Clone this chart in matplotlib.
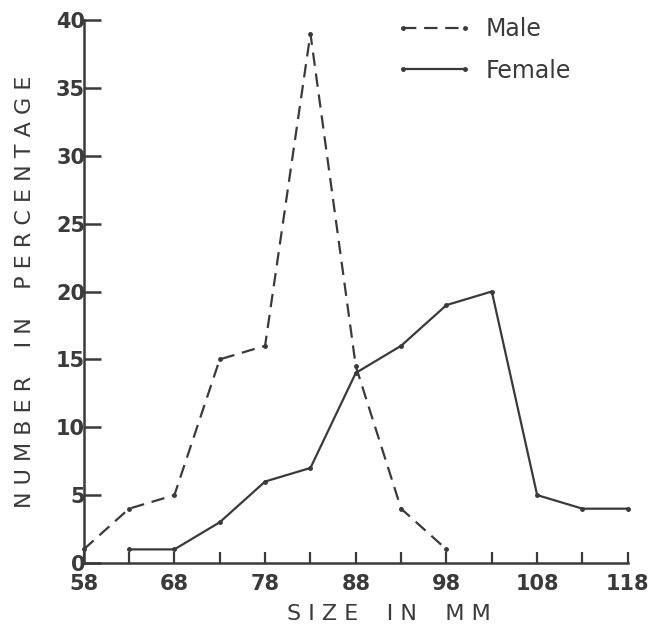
import matplotlib
matplotlib.use('Agg')
import matplotlib.pyplot as plt

# size classes (mm) and percentage per class
male_size = [58, 63, 68, 73, 78, 83, 88, 93, 98]
male_pct = [1, 4, 5, 15, 16, 39, 14.5, 4, 1]

female_size = [63, 68, 73, 78, 83, 88, 93, 98, 103, 108, 113, 118]
female_pct = [1, 1, 3, 6, 7, 14, 16, 19, 20, 5, 4, 4]

x_major = [58, 68, 78, 88, 98, 108, 118]
x_minor = [63, 73, 83, 93, 103, 113]
y_major = [0, 5, 10, 15, 20, 25, 30, 35, 40]

ink = '#3a3a3a'

fig = plt.figure(figsize=(6.54, 6.38), dpi=100)
ax = fig.add_axes([0.128, 0.1176, 0.832, 0.851])

ax.plot(male_size, male_pct, color=ink, lw=1.6, ls=(0, (6, 3.5)),
        marker='.', ms=5, clip_on=False, label='Male')
ax.plot(female_size, female_pct, color=ink, lw=1.6, ls='-',
        marker='.', ms=5, clip_on=False, label='Female')

ax.set_xlim(58, 118)
ax.set_ylim(0, 40)
ax.set_xticks(x_major)
ax.set_xticks(x_minor, minor=True)
ax.set_yticks(y_major)

for s in ['top', 'right']:
    ax.spines[s].set_visible(False)
for s in ['left', 'bottom']:
    ax.spines[s].set_color(ink)
    ax.spines[s].set_linewidth(1.8)

ax.tick_params(axis='y', which='major', direction='in', length=12, width=1.8,
               colors=ink, labelsize=15, pad=-1)
ax.tick_params(axis='x', which='both', direction='in', length=8, width=1.6,
               colors=ink, labelsize=15, pad=8)
for lab in ax.get_xticklabels() + ax.get_yticklabels():
    lab.set_fontweight('bold')
    lab.set_color(ink)

ax.set_xlabel('S I Z E    I N    M M', fontsize=16, color=ink)
ax.xaxis.set_label_coords(0.56, -0.075)
ax.set_ylabel('N U M B E R    I N    P E R C E N T A G E', fontsize=16,
              color=ink)
ax.yaxis.set_label_coords(-0.09, 0.5)

leg = ax.legend(loc='upper right', bbox_to_anchor=(0.935, 1.045), frameon=False,
                numpoints=2, handlelength=3.2, handletextpad=0.6,
                fontsize=17, labelspacing=0.75)
for t in leg.get_texts():
    t.set_color(ink)

plt.savefig('out.png', dpi=100)
